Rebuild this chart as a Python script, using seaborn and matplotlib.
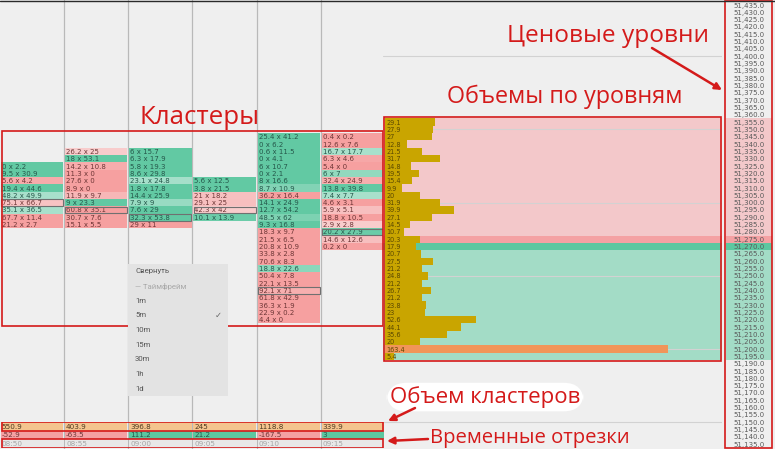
import matplotlib
matplotlib.use('Agg')
import numpy as np
import pandas as pd
import matplotlib.pyplot as plt
import seaborn as sns
from matplotlib.patches import Rectangle, FancyArrowPatch
from matplotlib.lines import Line2D
from matplotlib.colors import to_rgb
import matplotlib.transforms as mtrans

# ---------------- data ----------------
times = ['08:50', '08:55', '09:00', '09:05', '09:10', '09:15']
cluster_volume = [550.9, 403.9, 396.8, 245, 1118.8, 339.9]
cluster_delta = [-52.9, -63.5, 111.2, 21.2, -167.5, 3]
cluster_top_price = [51325, 51335, 51335, 51315, 51345, 51345]
cluster_poc_row = [5, 8, 9, 4, 21, 13]

c1_bid = [0, 9.5, 5.6, 19.4, 48.2, 75.1, 35.1, 67.7, 21.2]
c1_ask = [2.2, 30.9, 4.2, 44.6, 49.9, 66.7, 36.5, 11.4, 2.7]
c2_bid = [26.2, 18, 14.2, 11.3, 27.6, 8.9, 11.9, 9, 60.8, 30.7, 15.1]
c2_ask = [25, 53.1, 10.8, 0, 0, 0, 9.7, 23.3, 35.1, 7.6, 5.5]
c3_bid = [6, 6.3, 5.8, 8.6, 23.1, 1.8, 14.4, 7.9, 7.6, 32.3, 29]
c3_ask = [15.7, 17.9, 19.3, 29.8, 24.8, 17.8, 25.9, 9, 29, 53.8, 11]
c4_bid = [5.6, 3.8, 21, 29.1, 42.3, 10.1]
c4_ask = [12.5, 21.5, 18.2, 25, 42, 13.9]
c5_bid = [25.4, 0, 0.6, 0, 6, 0, 8, 8.7, 36.2, 14.1, 12.7, 48.5, 9.3, 18.3,
          21.5, 20.8, 33.8, 70.6, 18.8, 50.4, 22.1, 92.1, 61.8, 36.3, 22.9, 4.4]
c5_ask = [41.2, 6.2, 11.5, 4.1, 10.7, 2.1, 16.6, 10.9, 16.4, 24.9, 54.2, 62, 16.8, 9.7,
          6.5, 10.9, 2.8, 8.3, 22.6, 7.8, 13.5, 71, 42.9, 1.9, 0.2, 0]
c6_bid = [0.4, 12.6, 16.7, 6.3, 5.4, 6, 32.4, 13.8, 7.4, 4.6, 5.9, 18.8, 2.9, 20.2, 14.6, 0.2]
c6_ask = [0.2, 7.6, 17.7, 4.6, 0, 7, 24.9, 39.8, 7.7, 3.1, 5.1, 10.5, 2.8, 27.9, 12.6, 0]
cluster_bid = [c1_bid, c2_bid, c3_bid, c4_bid, c5_bid, c6_bid]
cluster_ask = [c1_ask, c2_ask, c3_ask, c4_ask, c5_ask, c6_ask]

profile_top_price = 51355
profile_volume = [29.1, 27.9, 27, 12.8, 21.5, 31.7, 14.8, 19.5, 15.4, 9.9, 20, 31.9, 39.9,
                  27.1, 14.5, 10.7, 20.3, 17.9, 20.7, 27.5, 21.2, 24.8, 21.2, 26.7, 21.2,
                  23.8, 23, 52.6, 44.1, 35.6, 20, 163.4, 5.4]
best_ask = 51275
best_bid = 51270

price_max, price_min, tick = 51435, 51135, 5

menu_items = ['Свернуть', '— Таймфрейм', '1m', '5m', '10m', '15m', '30m', '1h', '1d']
menu_checked = '5m'

annotations = ['Кластеры', 'Ценовые уровни', 'Объемы по уровням',
               'Объем кластеров', 'Временные отрезки']

# ---------------- style ----------------
W, H = 775, 449
BG = '#efefef'
RED = '#d41a1a'
PINK_LO, PINK_HI = '#f8cccc', '#f6a0a0'
GREEN_LO, GREEN_HI = '#a8e0cb', '#62c9a3'
PROF_PINK, PROF_GREEN = '#f3c8ca', '#a3dcc6'
ASK_RED, BID_GREEN = '#f4a1a3', '#5cc7a0'
GOLD, ORANGE = '#c9a500', '#f19559'
ROW_PX, TOP_PX = 7.32, 5.0
P_TOP = price_max + TOP_PX / ROW_PX * tick
P_BOT = price_max - (H - TOP_PX) / ROW_PX * tick
PX_PER_VOL = 1.73

sns.set_theme(style='white', rc={'axes.facecolor': BG, 'figure.facecolor': BG})
plt.rcParams['font.family'] = ['DejaVu Sans']


def frect(x0, y0, x1, y1):
    return [x0 / W, 1 - y1 / H, (x1 - x0) / W, (y1 - y0) / H]


def fpt(x, y):
    return (x / W, 1 - y / H)


def clean(ax):
    ax.set_xticks([])
    ax.set_yticks([])
    ax.set_xlabel('')
    ax.set_ylabel('')
    for s in ax.spines.values():
        s.set_visible(False)


def mix(lo, hi, t):
    return tuple((1 - t) * np.array(to_rgb(lo)) + t * np.array(to_rgb(hi)))


def cell_color(b, a):
    tot = b + a
    r = abs(b - a) / tot if tot else 0
    t = float(np.clip((r - 0.03) / 0.15, 0, 1))
    return mix(PINK_LO, PINK_HI, t) if b > a else mix(GREEN_LO, GREEN_HI, t)


fig = plt.figure(figsize=(W / 100, H / 100), dpi=100)
fig.patch.set_facecolor(BG)

# ---------------- clusters ----------------
rows = []
for ci, (bids, asks) in enumerate(zip(cluster_bid, cluster_ask)):
    for ri, (b, a) in enumerate(zip(bids, asks)):
        rows.append(dict(col=ci, price=cluster_top_price[ci] - tick * ri, bid=b, ask=a,
                         poc=(ri == cluster_poc_row[ci])))
df = pd.DataFrame(rows)

ax = fig.add_axes(frect(0, 0, 385, H))
ax.set_xlim(0, len(times))
ax.set_ylim(P_BOT, P_TOP)
ax.patch.set_alpha(0)
clean(ax)
for c in range(1, len(times)):
    ax.axvline(c, color='#b9b9b9', lw=0.9, zorder=0.5)
ax.barh(df['price'], 0.97, left=df['col'] + 0.015, height=tick,
        color=[cell_color(b, a) for b, a in zip(df['bid'], df['ask'])], lw=0, zorder=1)
for r in df.itertuples():
    tc = '#6e3636' if r.bid > r.ask else '#25574a'
    ax.text(r.col + 0.03, r.price, f"{r.bid:g} x {r.ask:g}", fontsize=5, ha='left',
            va='center_baseline', color=tc, zorder=2)
poc = df[df['poc']]
ax.barh(poc['price'], 0.965, left=poc['col'] + 0.018, height=tick * 0.92, fill=False,
        edgecolor='#707070', lw=0.8, zorder=3)
ax.add_patch(Rectangle((0.03, 51215.7), 5.94, 51348.9 - 51215.7, fill=False,
                       ec=RED, lw=1.2, zorder=5))

# ---------------- volume profile ----------------
axp = fig.add_axes(frect(383, 0, 722, H))
xmin = -(385 - 383) / PX_PER_VOL
xmax = (722 - 385) / PX_PER_VOL
prof_prices = profile_top_price - tick * np.arange(len(profile_volume))
prof_df = pd.DataFrame({'price': prof_prices, 'volume': profile_volume})
prof_df['kind'] = np.where(prof_df['volume'] == prof_df['volume'].max(), 'poc', 'level')


def level_bg(p):
    if p == best_ask:
        return ASK_RED
    if p == best_bid:
        return BID_GREEN
    return PROF_PINK if p > best_ask else PROF_GREEN


axp.barh(prof_prices, xmax - xmin, left=xmin, height=tick,
         color=[level_bg(p) for p in prof_prices], lw=0, zorder=0.2)
for g in range(51150, 51401, 50):
    axp.axhline(g, color='#d2d2d2', lw=0.8, zorder=0.4)
sns.barplot(data=prof_df, x='volume', y='price', hue='kind', orient='h', native_scale=True,
            palette={'level': GOLD, 'poc': ORANGE}, dodge=False, width=1.0, saturation=1,
            legend=False, linewidth=0, ax=axp, zorder=1)
axp.set_xlim(xmin, xmax)
axp.set_ylim(P_BOT, P_TOP)
axp.patch.set_alpha(0)
clean(axp)
for p, v in zip(prof_prices, profile_volume):
    axp.text(1.0, p, f"{v:g}", fontsize=4.7, ha='left', va='center_baseline',
             color='#5a4800', zorder=2)
tr = mtrans.blended_transform_factory(axp.transAxes, axp.transData)
axp.add_patch(Rectangle((0.003, 51191.8), 0.994, 51358.5 - 51191.8, transform=tr,
                        fill=False, ec=RED, lw=1.2, zorder=5))

# ---------------- price scale ----------------
axq = fig.add_axes(frect(723, 0, 775, H))
axq.set_xlim(0, 1)
axq.set_ylim(P_BOT, P_TOP)
axq.patch.set_alpha(0)
clean(axq)
levels = np.arange(price_max, price_min - 1, -tick)
axq.barh(prof_prices, 0.9, left=0.05, height=tick,
         color=[level_bg(p) for p in prof_prices], lw=0, zorder=0.2)
for p in levels:
    axq.text(0.5, p, f"{p:,.1f}", fontsize=5, ha='center', va='center_baseline',
             color='#5a5a5a', zorder=2)
axq.add_patch(Rectangle((0.04, 0.003), 0.9, 0.994, transform=axq.transAxes,
                        fill=False, ec=RED, lw=1.2, zorder=5))

# ---------------- bottom rows ----------------
axb = fig.add_axes(frect(0, 422, 385, 448))
axb.set_xlim(0, len(times))
axb.set_ylim(3, 0)
axb.patch.set_alpha(0)
clean(axb)
cols = np.arange(len(times))
axb.barh(np.full(len(times), 0.5), 0.97, left=cols + 0.015, height=1,
         color='#f4c48e', lw=0)
axb.barh(np.full(len(times), 1.5), 0.97, left=cols + 0.015, height=1,
         color=[ASK_RED if d < 0 else BID_GREEN for d in cluster_delta], lw=0)
axb.barh(np.full(len(times), 2.5), 0.97, left=cols + 0.015, height=1,
         color='#e8e8e8', lw=0)
for i in range(len(times)):
    axb.text(i + 0.03, 0.55, f"{cluster_volume[i]:g}", fontsize=5.2, ha='left',
             va='center', color='#4d3a20')
    axb.text(i + 0.03, 1.55, f"{cluster_delta[i]:g}", fontsize=5.2, ha='left',
             va='center', color='#6e3636' if cluster_delta[i] < 0 else '#25574a')
    axb.text(i + 0.03, 2.55, times[i], fontsize=5.2, ha='left', va='center',
             color='#a6a6a6')
axb.add_patch(Rectangle((0.03, 0.02), 5.94, 1.05, fill=False, ec=RED, lw=1.2, zorder=5))
axb.add_patch(Rectangle((0.03, 1.95), 5.94, 1.02, fill=False, ec=RED, lw=1.2, zorder=5))

# ---------------- popup menu ----------------
axm = fig.add_axes(frect(128, 264, 228, 396))
axm.set_facecolor('#e3e3e3')
clean(axm)
axm.set_xlim(0, 1)
axm.set_ylim(len(menu_items), 0)
for i, item in enumerate(menu_items):
    c = '#a8a8a8' if 'Таймфрейм' in item else '#555555'
    axm.text(0.07, i + 0.5, item, fontsize=5.6, ha='left', va='center', color=c,
             family=['Roboto', 'DejaVu Sans'])
    if item == menu_checked:
        axm.text(0.9, i + 0.5, '✓', fontsize=6, ha='center', va='center', color='#666666',
                 family=['DejaVu Sans'])

# ---------------- annotations ----------------
ann_font = ['Open Sans', 'DejaVu Sans']
fig.text(*fpt(140, 124), annotations[0], fontsize=18.6, color=RED, family=ann_font,
         ha='left', va='baseline')
fig.text(*fpt(507, 42), annotations[1], fontsize=17.6, color=RED, family=ann_font,
         ha='left', va='baseline')
fig.text(*fpt(447, 103), annotations[2], fontsize=16.8, color=RED, family=ann_font,
         ha='left', va='baseline')
fig.text(*fpt(390, 403), annotations[3], fontsize=16, color=RED, family=ann_font,
         ha='left', va='baseline', zorder=3,
         bbox=dict(boxstyle='round,pad=0.15,rounding_size=0.9', fc='white', ec='none'))
fig.text(*fpt(430, 443), annotations[4], fontsize=14.6, color=RED, family=ann_font,
         ha='left', va='baseline')

for (x0, y0), (x1, y1) in [((652, 48), (722, 90)), ((415, 408), (388, 421)),
                           ((428, 439), (387, 441))]:
    fig.add_artist(FancyArrowPatch(fpt(x0, y0), fpt(x1, y1), transform=fig.transFigure,
                                   arrowstyle='-|>', mutation_scale=10, color=RED, lw=1.8,
                                   shrinkA=0, shrinkB=0, zorder=6))

fig.add_artist(Line2D([0, 1], [1 - 0.5 / H, 1 - 0.5 / H], transform=fig.transFigure,
                      color='#2a2a2a', lw=1))

fig.savefig('out.png', dpi=100, facecolor=BG)
